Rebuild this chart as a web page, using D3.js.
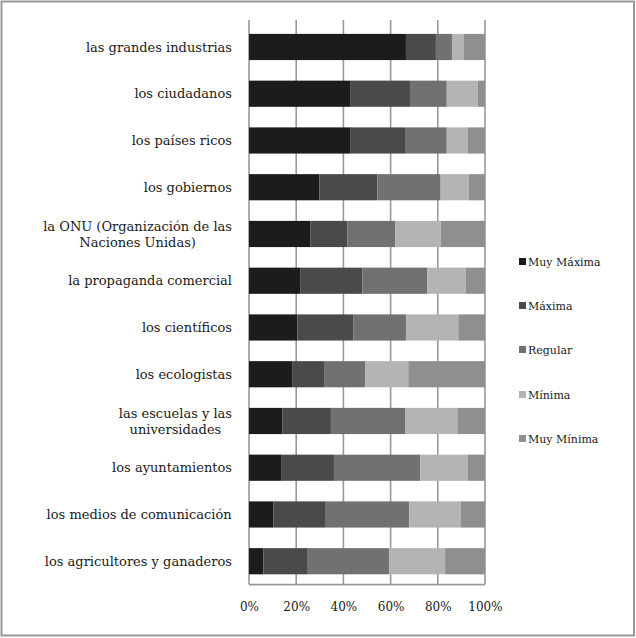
<!DOCTYPE html>
<html><head><meta charset="utf-8">
<script src="https://cdn.jsdelivr.net/npm/d3@7"></script>
<style>html,body{margin:0;padding:0;background:#fff;}svg{display:block;}</style>
</head><body>
<svg id="chart" width="636" height="638"></svg>
<script>
const categories = [
  ["las grandes industrias"],
  ["los ciudadanos"],
  ["los países ricos"],
  ["los gobiernos"],
  ["la ONU (Organización de las", "Naciones Unidas)"],
  ["la propaganda comercial"],
  ["los científicos"],
  ["los ecologistas"],
  ["las escuelas y las", "universidades"],
  ["los ayuntamientos"],
  ["los medios de comunicación"],
  ["los agricultores y ganaderos"]
];
const seriesNames = ["Muy Máxima", "Máxima", "Regular", "Mínima", "Muy Mínima"];
const muyMaxima = [66.5, 43.1, 43.1, 29.8, 26.1, 21.9, 20.5, 18.5, 14.1, 13.6, 10.3, 6.1];
const maxima    = [12.7, 25.1, 23.0, 24.6, 15.6, 26.1, 23.8, 13.3, 20.6, 22.4, 21.9, 18.8];
const regular   = [ 6.8, 15.6, 17.7, 26.8, 20.2, 27.6, 22.2, 17.4, 31.4, 36.5, 35.7, 34.4];
const minima    = [ 5.1, 13.1,  9.0, 12.0, 19.3, 16.3, 22.2, 18.3, 22.2, 20.2, 21.9, 23.8];
const muyMinima = [ 8.9,  3.1,  7.2,  6.8, 18.8,  8.1, 11.3, 32.5, 11.7,  7.3, 10.2, 16.9];
const tickValues = [0, 20, 40, 60, 80, 100];
const colors = ["#1c1c1c", "#4a4a4a", "#717171", "#b4b4b4", "#8f8f8f"];

const seriesData = [muyMaxima, maxima, regular, minima, muyMinima];
const rows = categories.map((c, i) => {
  const o = {key: i};
  seriesNames.forEach((s, j) => o[s] = seriesData[j][i]);
  return o;
});
const stacked = d3.stackOffsetExpand ? d3.stack().keys(seriesNames).offset(d3.stackOffsetExpand)(rows) : null;

const svg = d3.select("#chart");
const font = "'DejaVu Serif', serif";

// outer frame
svg.append("rect").attr("x", 1.5).attr("y", 1.5).attr("width", 632.5).attr("height", 634)
  .attr("fill", "#fff").attr("stroke", "#9a9a9a").attr("stroke-width", 2);

const x = d3.scaleLinear().domain([0, 1]).range([249, 485]);
const y = d3.scaleBand().domain(d3.range(categories.length)).range([23.6, 584.6]).paddingInner(0.44).paddingOuter(0.22);

// gridlines
svg.append("g").selectAll("line").data(tickValues).join("line")
  .attr("x1", d => x(d / 100)).attr("x2", d => x(d / 100))
  .attr("y1", 20).attr("y2", 584.6)
  .attr("stroke", "#999").attr("stroke-width", 1.6);
svg.append("line").attr("x1", x(0)).attr("x2", x(1)).attr("y1", 584.6).attr("y2", 584.6)
  .attr("stroke", "#999").attr("stroke-width", 1.6);

// bars
svg.append("g").selectAll("g").data(stacked).join("g")
  .attr("fill", (d, i) => colors[i])
  .selectAll("rect").data(d => d).join("rect")
  .attr("x", d => x(d[0])).attr("width", d => x(d[1]) - x(d[0]))
  .attr("y", (d, i) => y(i)).attr("height", y.bandwidth());

// category labels
const labelG = svg.append("g").attr("font-family", font).attr("font-size", 13).attr("fill", "#1a1a1a");
categories.forEach((lines, i) => {
  const cy = y(i) + y.bandwidth() / 2;
  const lh = 16;
  const t = labelG.append("text").attr("text-anchor", "middle");
  lines.forEach((ln, k) => {
    t.append("tspan").attr("x", 0).attr("y", cy + (k - (lines.length - 1) / 2) * lh).attr("dy", "0.35em").text(ln);
  });
  const w = t.node().getBBox().width;
  t.selectAll("tspan").attr("x", 232 - w / 2);
});

// x tick labels
const axis = d3.axisBottom(x).tickValues(tickValues.map(v => v / 100)).tickFormat(d3.format(".0%")).tickSize(0).tickPadding(0);
const ag = svg.append("g").attr("transform", "translate(0,602)").call(axis);
ag.select(".domain").remove();
ag.selectAll("text").attr("font-family", font).attr("font-size", 12).attr("fill", "#1a1a1a").attr("dy", "0.71em");

// legend
const legendY = [262, 306, 350, 395, 439];
const lg = svg.append("g").selectAll("g").data(seriesNames).join("g")
  .attr("transform", (d, i) => `translate(519,${legendY[i]})`);
lg.append("rect").attr("x", 0).attr("y", -4).attr("width", 7).attr("height", 7).attr("fill", (d, i) => colors[i]);
lg.append("text").attr("x", 9).attr("y", 0).attr("dy", "0.35em")
  .attr("font-family", font).attr("font-size", 11).attr("fill", "#1a1a1a").text(d => d);
</script>
</body></html>
